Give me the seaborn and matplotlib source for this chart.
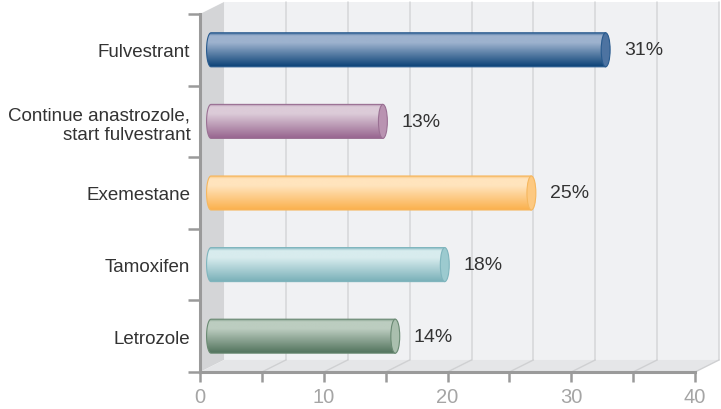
import numpy as np
import pandas as pd
import matplotlib
matplotlib.use("Agg")
import matplotlib.pyplot as plt
import seaborn as sns
from matplotlib.patches import Polygon, Ellipse, PathPatch
from matplotlib.path import Path
from matplotlib.colors import LinearSegmentedColormap

# ---- data -------------------------------------------------------------
categories = [
    "Fulvestrant",
    "Continue anastrozole,\nstart fulvestrant",
    "Exemestane",
    "Tamoxifen",
    "Letrozole",
]
values = [31, 13, 25, 18, 14]
value_labels = ["31%", "13%", "25%", "18%", "14%"]
x_major = [0, 10, 20, 30, 40]
x_minor = [5, 15, 25, 35]

# cylinder shading per bar: (outline, highlight, shadow, end cap)
bar_shades = [
    ("#285a8e", "#9db2ce", "#0a4176", "#4d73a1"),
    ("#9a7093", "#dccbd8", "#986690", "#b993b1"),
    ("#f6b75e", "#ffe4bd", "#fbb04c", "#fdc981"),
    ("#7fb5bd", "#d8ecee", "#77afb7", "#9ccacf"),
    ("#6a8a73", "#bccdc0", "#52735d", "#aabfae"),
]

# ---- 3-D box geometry (data units) ------------------------------------
X_MAX = 40
DEPTH_X = 1.94      # horizontal depth of the box
DEPTH_Y = -0.168    # vertical depth of the box (upwards)
BAR_SHIFT = 1.78    # cylinders sit near the back plane
BAR_STUB = 0.89     # cylinder base reaching into the side wall
CAP_RX = 0.36       # horizontal radius of the end caps

sns.set_theme(style="white")
plt.rcParams["font.family"] = ["Liberation Sans", "DejaVu Sans"]

fig = plt.figure(figsize=(7.21, 4.10), dpi=100)
fig.patch.set_facecolor("white")
ax = fig.add_axes([200 / 721, 37 / 410, 495 / 721, 358 / 410])
ax.set_facecolor("none")

df = pd.DataFrame({"treatment": categories, "share": values})
sns.barplot(data=df, x="share", y="treatment", orient="h", width=0.475,
            color="#888888", ax=ax)
bars = list(ax.patches)

# walls and floor
y_top, y_bot = -0.5, 4.5
back = Polygon([(DEPTH_X, y_top + DEPTH_Y), (X_MAX + DEPTH_X, y_top + DEPTH_Y),
                (X_MAX + DEPTH_X, y_bot + DEPTH_Y), (DEPTH_X, y_bot + DEPTH_Y)],
               closed=True, facecolor="#f0f1f3", edgecolor="none",
               zorder=0.1, clip_on=False)
side = Polygon([(0, y_top), (DEPTH_X, y_top + DEPTH_Y),
                (DEPTH_X, y_bot + DEPTH_Y), (0, y_bot)],
               closed=True, facecolor="#d4d5d7", edgecolor="none",
               zorder=0.2, clip_on=False)
floor = Polygon([(0, y_bot), (X_MAX, y_bot),
                 (X_MAX + DEPTH_X, y_bot + DEPTH_Y), (DEPTH_X, y_bot + DEPTH_Y)],
                closed=True, facecolor="#e5e6e8", edgecolor="none",
                zorder=0.2, clip_on=False)
for poly in (back, side, floor):
    ax.add_patch(poly)

for v in x_major[1:] + x_minor:
    ax.plot([v + DEPTH_X, v + DEPTH_X], [y_top + DEPTH_Y, y_bot + DEPTH_Y],
            color="#d5d6d8", lw=1.1, zorder=0.3, clip_on=False)
    ax.plot([v, v + DEPTH_X], [y_bot, y_bot + DEPTH_Y],
            color="#cfd0d2", lw=1.0, zorder=0.3, clip_on=False)

# cylinders built from the seaborn bar geometry
for p, (edge, light, dark, cap), label in zip(bars, bar_shades, value_labels):
    p.set_visible(False)
    y0, h = p.get_y(), p.get_height()
    yc, ry = y0 + h / 2, h / 2
    x_end = BAR_SHIFT + p.get_width()
    x_base = BAR_SHIFT - BAR_STUB

    t = np.linspace(np.pi / 2, -np.pi / 2, 40)
    arc = np.column_stack([x_base - CAP_RX * np.cos(t), yc + ry * np.sin(t)])
    verts = np.vstack([[[x_base, yc - ry], [x_end, yc - ry],
                        [x_end, yc + ry], [x_base, yc + ry]], arc,
                       [[x_base, yc - ry]]])
    codes = [Path.MOVETO] + [Path.LINETO] * (len(verts) - 2) + [Path.CLOSEPOLY]
    body = PathPatch(Path(verts, codes), facecolor="none", edgecolor=edge,
                     lw=0.8, zorder=3.2)
    ax.add_patch(body)

    cmap = LinearSegmentedColormap.from_list(
        "cyl", [(0.0, edge), (0.1, light), (0.3, light), (1.0, dark)])
    grad = np.linspace(0, 1, 128).reshape(-1, 1)
    img = ax.imshow(grad, cmap=cmap, aspect="auto", origin="upper",
                    extent=[x_base - CAP_RX, x_end, y0 + h, y0],
                    interpolation="bilinear", zorder=3.1)
    img.set_clip_path(body)

    ax.add_patch(Ellipse((x_end, yc), 2 * CAP_RX, h, facecolor=cap,
                         edgecolor=edge, lw=0.8, zorder=3.3))
    ax.text(x_end + CAP_RX + 1.13, yc, label, ha="left", va="center",
            fontsize=14, color="#333333", zorder=4)

# front axes
ax.set_xlim(0, X_MAX)
ax.set_ylim(y_bot, y_top)
ax.set_xlabel("")
ax.set_ylabel("")
for s in ("top", "right"):
    ax.spines[s].set_visible(False)
for s in ("left", "bottom"):
    ax.spines[s].set_visible(True)
    ax.spines[s].set_color("#9a9a9a")
    ax.spines[s].set_linewidth(2.2)
    ax.spines[s].set_zorder(2.5)

ax.set_xticks(x_major)
ax.set_xticks(x_minor, minor=True)
ax.set_xticklabels([str(v) for v in x_major])
ax.tick_params(axis="x", which="both", direction="out", length=7.2, width=1.8,
               color="#9a9a9a", bottom=True)
ax.tick_params(axis="x", which="major", labelsize=14.5, labelcolor="#a5a5a5", pad=3.5)

ax.set_yticks(range(len(categories)))
ax.set_yticklabels(categories)
ax.set_yticks(np.arange(-0.5, len(categories)), minor=True)
ax.tick_params(axis="y", which="major", length=0, labelsize=13.5,
               labelcolor="#333333", pad=7, left=False)
ax.tick_params(axis="y", which="minor", direction="out", length=8.6, width=1.8,
               color="#9a9a9a", left=True)
ax.grid(False)

fig.savefig("out.png", dpi=100)
